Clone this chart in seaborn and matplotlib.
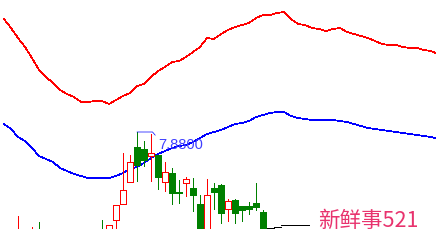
import matplotlib
matplotlib.use("Agg")
import matplotlib.pyplot as plt
import seaborn as sns
import numpy as np

# ---- data (prices) ----
# upper (red) and middle (blue) bands, one value per trading slot 0..62
upper_band = [9.01, 8.92, 8.82, 8.73, 8.62, 8.50, 8.43, 8.37, 8.30, 8.26,
              8.23, 8.18, 8.18, 8.19, 8.19, 8.16, 8.20, 8.24, 8.27, 8.34,
              8.36, 8.43, 8.49, 8.53, 8.58, 8.59, 8.63, 8.68, 8.73, 8.82,
              8.81, 8.86, 8.90, 8.93, 8.95, 8.97, 9.02, 9.05, 9.05, 9.07,
              9.08, 9.01, 8.96, 8.95, 8.92, 8.91, 8.89, 8.91, 8.92, 8.88,
              8.86, 8.84, 8.82, 8.79, 8.76, 8.75, 8.75, 8.73, 8.72, 8.72,
              8.70, 8.69, 8.66]
middle_band = [7.96, 7.91, 7.83, 7.79, 7.72, 7.64, 7.61, 7.58, 7.52, 7.49,
               7.46, 7.44, 7.42, 7.42, 7.42, 7.42, 7.44, 7.47, 7.51, 7.53,
               7.57, 7.62, 7.66, 7.69, 7.72, 7.74, 7.75, 7.78, 7.82, 7.86,
               7.88, 7.90, 7.93, 7.96, 7.97, 7.99, 8.03, 8.05, 8.07, 8.08,
               8.08, 8.04, 8.02, 8.01, 8.00, 8.00, 8.00, 8.00, 7.99, 7.98,
               7.96, 7.94, 7.92, 7.91, 7.90, 7.89, 7.88, 7.87, 7.86, 7.85,
               7.84, 7.83, 7.81]

# candles (slot index, open, close, high, low)
candle_slot = [2, 4, 5, 14, 15, 16, 17, 18, 19, 20, 21, 22, 23, 24, 25, 26,
               27, 28, 29, 30, 31, 32, 33, 34, 35, 36, 37]
candle_open = [6.80, 6.80, 6.88, 6.88, 6.82, 7.00, 7.16, 7.38, 7.73, 7.71,
               7.64, 7.65, 7.38, 7.47, 7.28, 7.37, 7.32, 7.16, 6.85, 7.32,
               7.35, 7.11, 7.20, 7.14, 7.14, 7.17, 7.08]
candle_close = [6.88, 6.85, 6.80, 6.80, 6.95, 7.15, 7.30, 7.58, 7.55, 7.60,
                7.67, 7.43, 7.48, 7.27, 7.27, 7.41, 7.25, 6.85, 7.25, 7.28,
                7.07, 7.19, 7.07, 7.10, 7.11, 7.13, 6.85]
candle_high = [7.04, 6.93, 6.98, 7.00, 6.95, 7.15, 7.67, 7.65, 7.88, 7.79,
               7.86, 7.65, 7.58, 7.52, 7.40, 7.43, 7.42, 7.25, 7.41, 7.37,
               7.36, 7.21, 7.21, 7.14, 7.18, 7.37, 7.10]
candle_low = [6.75, 6.75, 6.75, 6.75, 6.75, 6.85, 7.16, 7.38, 7.39, 7.54,
              7.39, 7.31, 7.29, 7.16, 7.17, 7.24, 7.09, 6.80, 6.80, 7.11,
              6.97, 6.99, 6.97, 6.99, 7.06, 7.10, 6.80]

# flat (unchanged) days at the end
flat_slot = [38, 39, 40, 41, 42, 43]
flat_price = [6.92, 6.93, 6.95, 6.95, 6.95, 6.95]

peak_label = "7.8800"
watermark = "新鲜事521"

RED = "#ff0000"
GREEN = "#008000"
BLUE = "#0000ff"

sns.set_style("white")
plt.rcParams["font.family"] = ["Liberation Sans", "DejaVu Sans"]

fig = plt.figure(figsize=(4.36, 2.46), dpi=100)
ax = fig.add_axes([0, 17.5 / 246, 1, 228.5 / 246])
ax.set_axis_off()

px = 72 / 100  # one pixel in points

slots = list(range(len(upper_band)))
sns.lineplot(x=slots, y=upper_band, color=RED, ax=ax)
sns.lineplot(x=slots, y=middle_band, color=BLUE, ax=ax)
for ln in ax.lines:
    ln.set_linewidth(0.5)
    ln.set_antialiased(False)

body_w = 6 / 7
for s, o, c, h, l in zip(candle_slot, candle_open, candle_close,
                         candle_high, candle_low):
    up = c > o
    col = RED if up else GREEN
    ax.vlines(s, l, h, colors=col, linewidth=px, antialiased=False, zorder=3)
    ax.bar(s, abs(c - o), bottom=min(o, c), width=body_w,
           facecolor="white" if up else GREEN, edgecolor=col,
           linewidth=px, antialiased=False, zorder=4)

ax.hlines(flat_price, np.array(flat_slot) - 0.5, np.array(flat_slot) + 0.5,
          colors="black", linewidth=px, antialiased=False, zorder=4)

# peak annotation
i_peak = int(np.argmax(candle_high))
ax.annotate(peak_label, xy=(candle_slot[i_peak], candle_high[i_peak]),
            xytext=(22.0, 7.815), textcoords="data", ha="left", va="top",
            color="#3f3fff", fontsize=10.5,
            arrowprops=dict(arrowstyle="-", color=BLUE, lw=0.5,
                            shrinkA=0, shrinkB=0, relpos=(0, 1),
                            connectionstyle="angle,angleA=130,angleB=0,rad=0"))

ax.set_xlim(-4 / 7, 432 / 7)
ax.set_ylim(9.20 - 2.285, 9.20)

fig.text(318 / 436, (246 - 221) / 246, watermark, ha="left", va="center",
         fontsize=15.5, color="#e8336e",
         family=["Noto Sans CJK SC", "DejaVu Sans"])

fig.savefig("out.png", dpi=100, facecolor="white")
